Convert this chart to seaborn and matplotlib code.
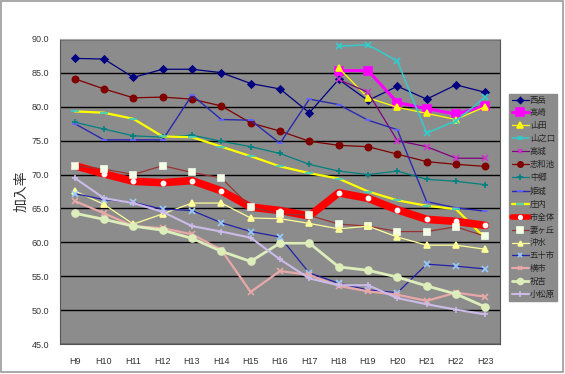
import numpy as np
import matplotlib
matplotlib.use("Agg")
import matplotlib.pyplot as plt
from matplotlib.patches import Rectangle
import seaborn as sns

# fiscal years (Heisei)
years = ["H9", "H10", "H11", "H12", "H13", "H14", "H15", "H16",
         "H17", "H18", "H19", "H20", "H21", "H22", "H23"]

# enrolment rate per district, None = no data (before merger)
nishidake = [87.1, 87.0, 84.3, 85.5, 85.5, 85.0, 83.4, 82.6, 79.1, 84.0, 80.9, 83.0, 81.1, 83.2, 82.1]
takazaki = [None] * 9 + [85.3, 85.3, 80.6, 79.7, 78.9, 80.1]
yamada = [None] * 9 + [85.7, 81.3, 79.9, 79.0, 78.1, 80.0]
yamanokuchi = [None] * 9 + [88.9, 89.1, 86.7, 76.1, 77.9, 81.4]
takajo = [None] * 9 + [84.0, 82.1, 75.0, 74.1, 72.4, 72.4]
shiwachi = [84.1, 82.6, 81.3, 81.4, 81.1, 80.1, 77.6, 76.4, 74.9, 74.3, 74.1, 73.0, 71.9, 71.5, 71.2]
nakago = [77.7, 76.7, 75.7, 75.5, 75.8, 74.9, 74.1, 73.1, 71.5, 70.5, 70.0, 70.5, 69.3, 69.0, 68.5]
himeki = [77.5, 75.1, 75.1, 75.1, 81.7, 78.1, 78.0, 74.6, 81.1, 80.3, 78.0, 76.6, 66.0, 65.1, 64.6]
shonai = [79.3, 79.1, 78.2, 75.6, 75.5, 74.1, 72.7, 71.2, 70.2, 69.4, 67.5, 66.2, 65.4, 64.9, 60.6]
city_total = [71.3, 70.1, 69.0, 68.8, 69.1, 67.6, 65.2, 64.7, 63.9, 67.3, 66.5, 64.8, 63.4, 63.1, 62.5]
tsumagaoka = [71.3, 70.8, 70.0, 71.3, 70.3, 69.5, 65.2, 64.2, 64.0, 62.7, 62.4, 61.6, 61.6, 62.3, 60.9]
okimizu = [67.6, 65.6, 62.7, 64.2, 65.8, 65.8, 63.6, 63.5, 62.8, 62.0, 62.4, 60.8, 59.6, 59.6, 59.0]
isoichi = [67.2, 66.3, 65.9, 64.9, 64.7, 62.9, 61.6, 60.8, 55.5, 54.0, 53.0, 52.6, 56.8, 56.5, 56.1]
yokoichi = [66.1, 64.3, 62.4, 62.1, 61.2, 58.9, 52.7, 55.8, 55.2, 53.6, 52.8, 52.3, 51.4, 52.6, 52.0]
iwayoshi = [64.3, 63.4, 62.4, 61.8, 60.6, 58.7, 57.2, 59.9, 59.9, 56.4, 55.9, 54.9, 53.6, 52.4, 50.5]
komatsubara = [69.5, 66.5, 65.8, 64.5, 62.4, 61.6, 60.7, 57.5, 54.7, 53.7, 53.7, 51.8, 50.9, 50.1, 49.4]

names = ["西岳", "高崎", "山田", "山之口", "高城", "志和池", "中郷", "姫城",
         "庄内", "市全体", "妻ヶ丘", "沖水", "五十市", "横市", "祝吉", "小松原"]
series = [nishidake, takazaki, yamada, yamanokuchi, takajo, shiwachi, nakago, himeki,
          shonai, city_total, tsumagaoka, okimizu, isoichi, yokoichi, iwayoshi, komatsubara]

# (line colour, marker, marker face, marker edge, marker size, line width)
styles = [
    ("#000080", "D", "#000080", "#000080", 3.5, 0.9),
    ("#FF00FF", "s", "#FF00FF", "#FF00FF", 6.0, 2.2),
    ("#FFFF00", "^", "#FFFF00", "#FFFF00", 4.5, 0.9),
    ("#33CCCC", "x", "#33CCCC", "#33CCCC", 4.0, 1.1),
    ("#800080", "x", "#800080", "#CC33CC", 4.0, 0.9),
    ("#800000", "o", "#800000", "#800000", 4.5, 0.9),
    ("#008080", "+", "#008080", "#008080", 4.5, 0.9),
    ("#2A2AB0", "_", "#6666FF", "#6666FF", 5.0, 1.0),
    ("#FFFF00", "_", "#33CCCC", "#33CCCC", 6.0, 1.6),
    ("#FF0000", "o", "white", "white", 3.0, 5.5),
    ("#993333", "s", "#F4FFE8", "#F4FFE8", 5.0, 0.9),
    ("#FFFF99", "^", "#FFFF99", "#FFFF99", 4.0, 0.9),
    ("#2222AA", "x", "#99CCFF", "#99CCFF", 4.0, 0.9),
    ("#E8A8A8", "x", "#E8A8A8", "#E8A8A8", 4.0, 1.6),
    ("#DDEEBB", "o", "#DDEEBB", "#DDEEBB", 5.0, 2.0),
    ("#CCBBE8", "+", "#CCBBE8", "#CCBBE8", 4.5, 1.5),
]

sns.set_style("white")
plt.rcParams["font.family"] = ["Liberation Sans", "Noto Sans CJK JP"]

fig = plt.figure(figsize=(5.65, 3.74), dpi=100)
fig.patch.set_facecolor("white")
fig.patches.append(Rectangle((0.002, 0.006), 0.994, 0.99, transform=fig.transFigure,
                             fill=False, edgecolor="#9a9a9a", lw=1.2))
ax = fig.add_axes([60 / 565, 1 - 344.3 / 374, 440 / 565, (344.3 - 38.7) / 374])
ax.set_facecolor("#8c8c8c")

xpos = np.arange(len(years))
for name, vals, (c, m, mfc, mec, ms, lw) in zip(names, series, styles):
    v = np.array([np.nan if a is None else a for a in vals], dtype=float)
    ok = ~np.isnan(v)
    sns.lineplot(x=xpos[ok], y=v[ok], ax=ax, color=c, lw=lw, marker=m,
                 markerfacecolor=mfc, markeredgecolor=mec, markersize=ms,
                 markeredgewidth=1.2, label=name, legend=False, sort=False)

ax.set_xlim(-0.5, len(years) - 0.5)
ax.set_ylim(45, 90)
ax.set_yticks(np.arange(45, 90.1, 5))
ax.set_yticklabels([f"{t:.1f}" for t in np.arange(45, 90.1, 5)])
ax.set_xticks(xpos)
ax.set_xticklabels(years)
ax.tick_params(axis="both", length=0, labelsize=6.5, colors="#333333")
ax.tick_params(axis="x", pad=9)
ax.tick_params(axis="y", pad=8)
ax.yaxis.grid(True, color="black", lw=1.0)
ax.xaxis.grid(False)
ax.set_axisbelow(True)
for s in ax.spines.values():
    s.set_color("#555555")
    s.set_linewidth(0.8)
ax.spines["top"].set_color("#aaaaaa")
ax.set_ylabel("加入率", fontsize=10, color="#333333", labelpad=2)

handles, labels = ax.get_legend_handles_labels()
leg = fig.legend(handles, labels, loc="upper left", bbox_to_anchor=(509 / 565, 1 - 94 / 374),
                 fontsize=6, frameon=True, fancybox=False, handlelength=2.1,
                 handletextpad=0.1, labelspacing=0.58, borderpad=0.3, borderaxespad=0)
leg.get_frame().set_facecolor("#8c8c8c")
leg.get_frame().set_edgecolor("#8c8c8c")
leg.get_frame().set_alpha(1)
for line in leg.get_lines():
    line.set_markersize(line.get_markersize() * 0.85)
    line.set_linewidth(min(line.get_linewidth(), 4.0))

fig.savefig("out.png", dpi=100)
